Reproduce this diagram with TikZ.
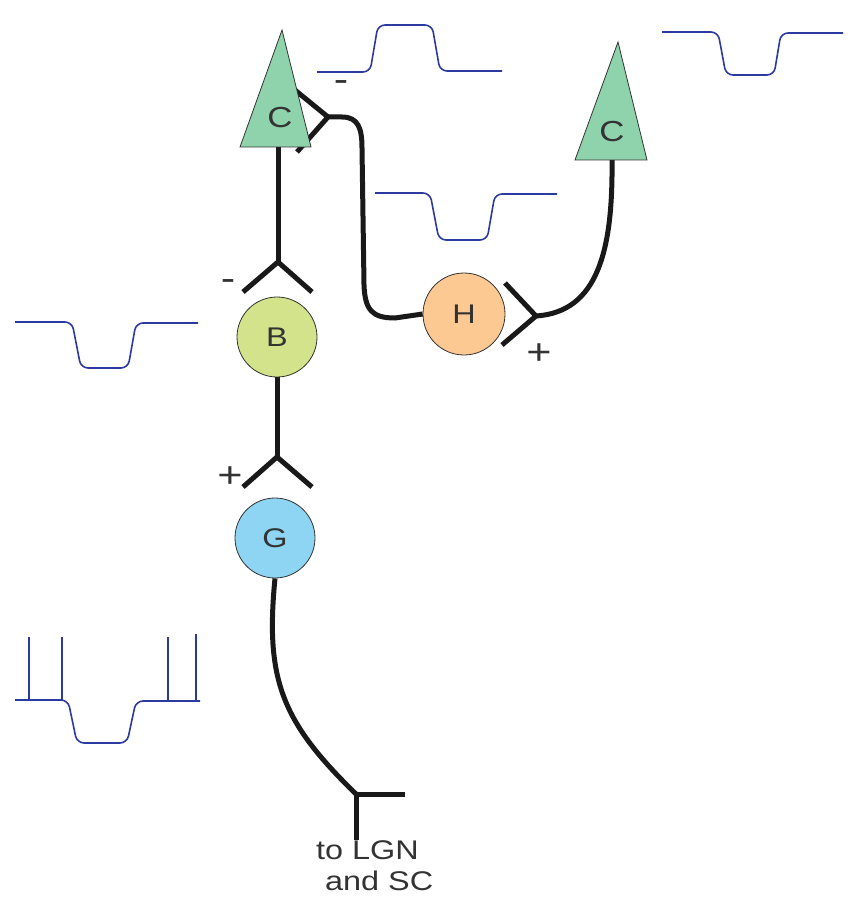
\documentclass[tikz,border=0pt]{standalone}
\usepackage{fontspec}
\setmainfont[FakeStretch=1.2]{Liberation Sans}
\pgfdeclarelayer{bg}
\pgfsetlayers{bg,main}
\definecolor{conefill}{HTML}{8FD3AC}
\definecolor{bipfill}{HTML}{D2E38B}
\definecolor{ganfill}{HTML}{8DD5F2}
\definecolor{horfill}{HTML}{FDC992}
\definecolor{wave}{HTML}{2B3AA0}
\definecolor{ink}{HTML}{333333}
\tikzset{
  cell/.style={circle, draw=ink, line width=0.8pt, inner sep=0pt, font=\fontsize{27}{27}\selectfont, text=ink},
  cone/.style={draw=ink, line width=0.8pt, fill=conefill},
  wire/.style={line width=5pt, black!90},
  trace/.style={line width=1.6pt, wave, rounded corners=7pt},
  spike/.style={line width=1.6pt, wave},
  sign/.style={font=\fontsize{36}{36}\selectfont, text=ink, inner sep=0pt},
  conelabel/.style={font=\fontsize{29}{29}\selectfont, text=ink}
}
\begin{document}
\begin{tikzpicture}[x=1pt,y=-1pt]
\useasboundingbox (0,0) rectangle (849,901);

% cells
\node[cell, fill=bipfill, minimum size=80pt] (B) at (277,337) {B};
\node[cell, fill=ganfill, minimum size=80pt] (G) at (275,538) {G};
\node[cell, fill=horfill, minimum size=82pt] (H) at (464,314) {H};

% cone pedicles and synapse points
\coordinate (c1) at (278,147);
\coordinate (c2) at (612,160);
\coordinate (jB) at (278,262);
\coordinate (jBl) at (243,292);
\coordinate (jBr) at (312,292);
\coordinate (jG) at (277,457);
\coordinate (jGl) at (243,487);
\coordinate (jGr) at (312,487);
\coordinate (v1) at (328,117);
\coordinate (v1a) at (290,86);
\coordinate (v1b) at (297,152);
\coordinate (v2) at (536,316);
\coordinate (v2a) at (505,283);
\coordinate (v2b) at (502,345);
\coordinate (t) at (356,794);
\coordinate (tr) at (405,794);
\coordinate (td) at (356,840);

\begin{pgfonlayer}{bg}
  % cone to bipolar
  \draw[wire] (c1) -- (jB);
  \draw[wire] (jBl) -- (jB) -- (jBr);
  % bipolar to ganglion
  \draw[wire] (B.south) -- (jG);
  \draw[wire] (jGl) -- (jG) -- (jGr);
  % ganglion axon
  \draw[wire] (G.south) .. controls (265,680) and (282,722) .. (t);
  \draw[wire] (t) -- (tr);
  \draw[wire] (t) -- (td);
  % horizontal cell feedback onto the left cone
  \draw[wire] (v1a) -- (v1) -- (v1b);
  \draw[wire] (v1) -- (342,117) .. controls (358,117) and (362,128) .. (362,148)
     -- (364,285) .. controls (365,310) and (372,318) .. (395,318) -- (H.west);
  % horizontal cell to the right cone
  \draw[wire] (v2a) -- (v2) -- (v2b);
  \draw[wire] (v2) .. controls (598,312) and (613,250) .. (c2);
\end{pgfonlayer}

% cones
\draw[cone] (282,30) -- (240,147) -- (311,147) -- cycle;
\draw[cone] (618,42) -- (575,160) -- (647,160) -- cycle;
\node[conelabel] (C1) at (280,118) {C};
\node[conelabel] (C2) at (612,132) {C};

% signs
\node[sign] (s1) at (341,86) {-};
\node[sign] (s2) at (228,285) {-};
\node[sign] (s3) at (230,477) {+};
\node[sign] (s4) at (539,354) {+};

% output label
\node[font=\fontsize{27}{31}\selectfont, text=ink, align=left, anchor=north west, inner sep=0pt] (out) at (316,840) {to LGN\\\hspace*{9pt}and SC};

% voltage traces
\draw[trace] (317,72) -- (370,72) -- (378,25) -- (432,25) -- (440,71) -- (502,71);
\draw[trace] (662,32) -- (718,32) -- (726,75) -- (774,75) -- (781,33) -- (843,33);
\draw[trace] (375,193) -- (430,193) -- (439,240) -- (487,240) -- (495,194) -- (557,194);
\draw[trace] (15,322) -- (72,322) -- (81,368) -- (128,368) -- (136,323) -- (198,323);
\draw[trace] (15,700) -- (68,700) -- (77,743) -- (127,743) -- (136,701) -- (200,701);
\draw[spike] (29,700) -- (29,637);
\draw[spike] (62,700) -- (62,637);
\draw[spike] (168,701) -- (168,637);
\draw[spike] (196,701) -- (196,634);
\end{tikzpicture}
\end{document}
